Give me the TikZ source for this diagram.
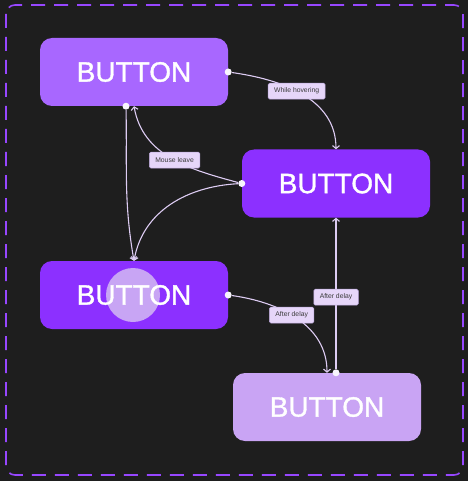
\documentclass[tikz,border=0pt]{standalone}
\usepackage{fontspec}
\setmainfont{Liberation Sans}
\newfontfamily\btnfont[FakeBold=1.2]{Liberation Sans}
\usepackage{xcolor}
\usetikzlibrary{arrows.meta,positioning}
\definecolor{bgdark}{HTML}{1E1E1E}
\definecolor{framepurple}{HTML}{9747FF}
\definecolor{btnlight}{HTML}{A867FF}
\definecolor{btnvivid}{HTML}{8C30FF}
\definecolor{btnpale}{HTML}{C9A4F4}
\definecolor{ripplefill}{HTML}{C8A5F4}
\definecolor{wire}{HTML}{DDCCF3}
\definecolor{lblfill}{HTML}{E6D6F9}
\definecolor{lblline}{HTML}{BBA6DA}
\definecolor{lbltext}{HTML}{3A3A3A}
\tikzset{
  btn/.style={rectangle, rounded corners=12pt, minimum width=188pt,
              minimum height=68pt, inner sep=0pt, text=white,
              font=\btnfont\fontsize{28}{30}\selectfont},
  dot/.style={circle, fill=white!80!wire, minimum size=7pt, inner sep=0pt},
  fl/.style={-{Straight Barb[length=3pt,width=7pt]}, line width=1.1pt, draw=wire},
  lbl/.style={rectangle, draw=lblline, line width=0.5pt, fill=lblfill,
              text=lbltext, rounded corners=1.5pt, inner xsep=6pt, inner ysep=0pt,
              minimum height=16pt, font=\fontsize{6.8}{8}\selectfont},
  frame/.style={draw=framepurple, line width=1.6pt, dash pattern=on 14pt off 9pt,
                rounded corners=9pt},
}
\begin{document}
\begin{tikzpicture}[x=1pt,y=1pt]
\fill[bgdark] (0,0) rectangle (468,-481);
\useasboundingbox (0,0) rectangle (468,-481);
\draw[frame] (6,-5) rectangle (463,-475);
\node[btn,fill=btnlight] (idle) at (134,-72) {BUTTON};
\node[btn,fill=btnvivid] (hover) at (336,-183.5) {BUTTON};
\node[btn,fill=btnvivid,path picture={\fill[ripplefill]
  ([xshift=-1pt]path picture bounding box.center) circle (27pt);}] (press) at (134,-295) {BUTTON};
\node[btn,fill=btnpale] (delay) at (327,-407) {BUTTON};
\node[dot] (idleout) at (idle.east) {};
\node[dot] (idledown) at ([xshift=-8pt]idle.south) {};
\node[dot] (hoverout) at (hover.west) {};
\node[dot] (pressout) at (press.east) {};
\node[dot] (delayout) at ([xshift=9pt]delay.north) {};
\draw[fl] (idleout) to[out=-8,in=90] node[lbl,pos=0.45]{While hovering} (hover.north);
\draw[fl] (hoverout) to[out=165,in=-80] node[lbl,pos=0.47]{Mouse leave} (idle.south);
\draw[fl] (hoverout) to[out=183,in=80] (press.north);
\draw[fl] (idledown) to[out=-89,in=100] (press.north);
\draw[fl] (pressout) to[out=-8,in=90] node[lbl,pos=0.45]{After delay} (delay.north);
\draw[fl] (delayout) -- node[lbl,pos=0.475]{After delay} (hover.south);
\end{tikzpicture}
\end{document}
